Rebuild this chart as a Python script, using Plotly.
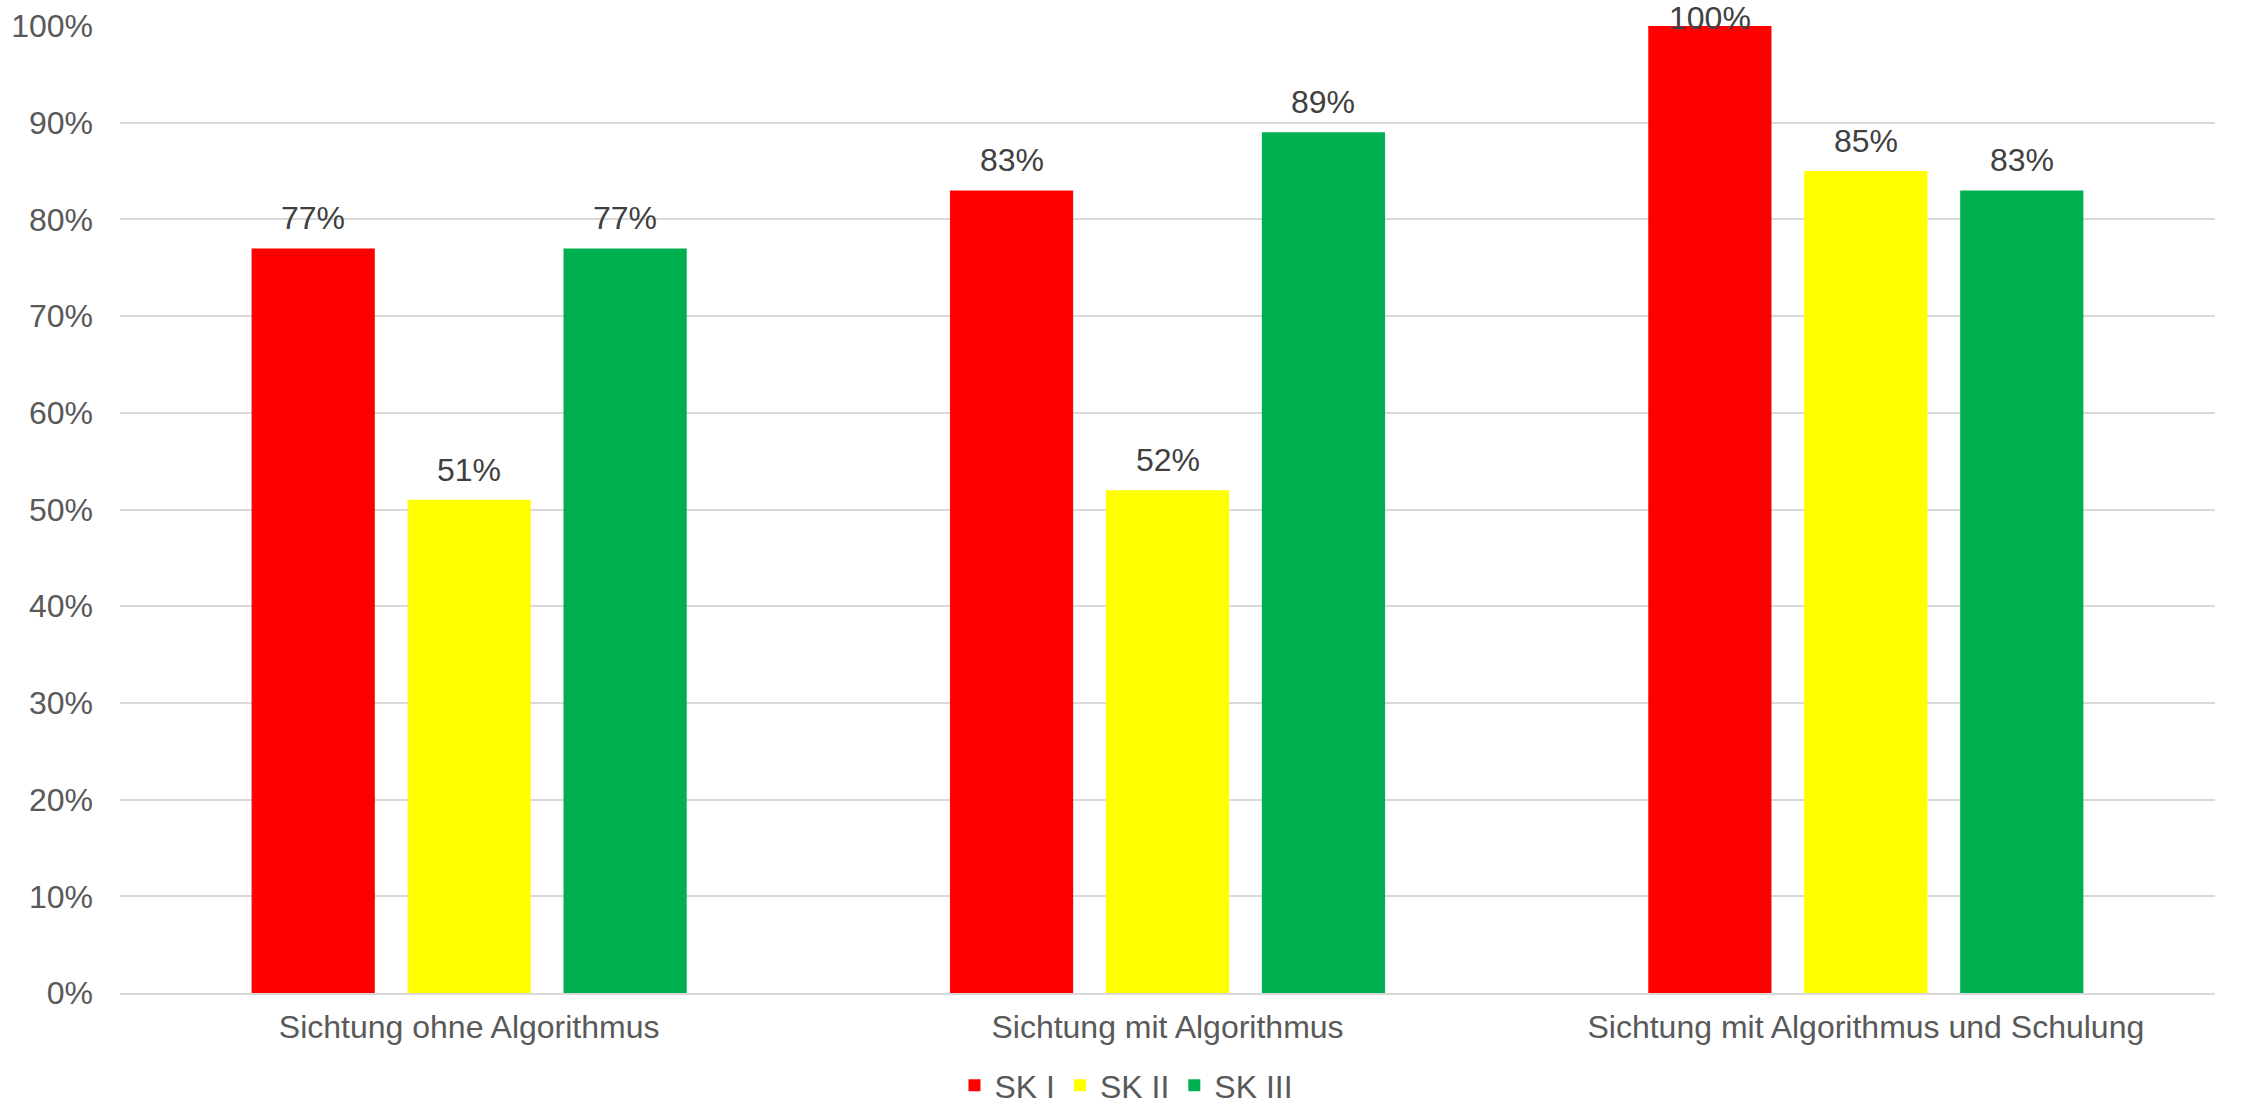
import plotly.graph_objects as go

categories = ["Sichtung ohne Algorithmus", "Sichtung mit Algorithmus", "Sichtung mit Algorithmus und Schulung"]
series_names = ["SK I", "SK II", "SK III"]
sk1 = [0.77, 0.83, 1.00]
sk2 = [0.51, 0.52, 0.85]
sk3 = [0.77, 0.89, 0.83]
colors = ["#FF0000", "#FFFF00", "#00B050"]
ytick_vals = [0, 0.1, 0.2, 0.3, 0.4, 0.5, 0.6, 0.7, 0.8, 0.9, 1.0]
y_max = 1.0

FONT = "Liberation Sans, Arial, sans-serif"
BARGAP = 0.33
BARGROUPGAP = 0.21

series = [sk1, sk2, sk3]
n = len(series)
x_idx = list(range(len(categories)))
slot = (1 - BARGAP) / n

fig = go.Figure()
for j, (name, vals, col) in enumerate(zip(series_names, series, colors)):
    fig.add_trace(go.Bar(
        x=x_idx, y=vals, name=name,
        marker=dict(color=col, line=dict(width=0)),
        hoverinfo="y",
    ))
    # data labels, placed in data coordinates at each bar's centre
    for i, v in enumerate(vals):
        at_top = v >= y_max
        fig.add_annotation(
            x=i + (j - (n - 1) / 2) * slot, y=v, xref="x", yref="y",
            text=f"{round(v * 100)}%", showarrow=False,
            yanchor="bottom", yshift=-12 if at_top else 10,
            font=dict(family=FONT, size=32, color="#404040"),
        )

fig.update_layout(
    width=2244, height=1104,
    margin=dict(l=120, r=29, t=26, b=111, autoexpand=False),
    paper_bgcolor="white", plot_bgcolor="white",
    barmode="group", bargap=BARGAP, bargroupgap=BARGROUPGAP,
    font=dict(family=FONT, size=32, color="#595959"),
    showlegend=True,
    legend=dict(
        orientation="h", xref="container", yref="paper",
        x=0.502, xanchor="center", y=-0.0955, yanchor="middle",
        font=dict(family=FONT, size=32, color="#595959"),
        itemwidth=30, traceorder="normal",
    ),
    xaxis=dict(
        range=[-0.5, len(categories) - 0.5],
        tickvals=x_idx, ticktext=categories,
        showgrid=False, showline=True, linecolor="#d9d9d9", linewidth=2,
        zeroline=False, ticks="", ticklabelstandoff=5, automargin=False,
        tickfont=dict(family=FONT, size=32, color="#595959"),
    ),
    yaxis=dict(
        range=[0, y_max], tickvals=ytick_vals, tickformat=".0%",
        showgrid=True, gridcolor="#d9d9d9", gridwidth=2,
        zeroline=False, showline=False, ticks="",
        ticklabelstandoff=26, automargin=False,
        tickfont=dict(family=FONT, size=32, color="#595959"),
    ),
)

fig.write_html("out.html")
